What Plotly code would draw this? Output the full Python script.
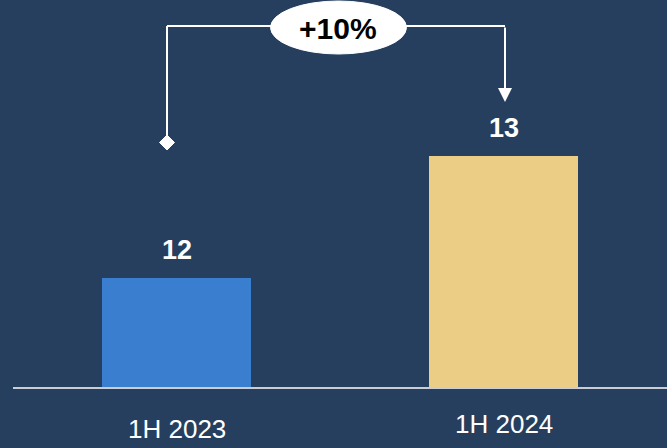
import plotly.graph_objects as go

categories = ["1H 2023", "1H 2024"]
values = [12, 13]
value_labels = ["12", "13"]
bar_colors = ["#3A7ECF", "#ECCD86"]
growth_label = "+10%"

W, H = 667, 448
ML, MB = 13, 61
PW, PH = W - ML, H - MB
BG = "#263F5F"

# y-axis scale (broken axis, not starting at zero)
y_base = 11.107
px_per_unit = 122.0
y_top = y_base + PH / px_per_unit

def px_x(p):
    return (p - ML) / PW

def px_y(p):
    return (PH - p) / PH

fig = go.Figure()
fig.add_trace(go.Bar(
    x=categories, y=values, marker=dict(color=bar_colors, line=dict(width=0)),
    width=0.456, hoverinfo="skip", showlegend=False,
))

shapes = []
# bracket lines
shapes.append(dict(type="line", xref="paper", yref="paper", x0=px_x(167), x1=px_x(167),
                   y0=px_y(26), y1=px_y(138), line=dict(color="white", width=2)))
shapes.append(dict(type="line", xref="paper", yref="paper", x0=px_x(167), x1=px_x(505),
                   y0=px_y(26), y1=px_y(26), line=dict(color="white", width=2)))
# diamond
shapes.append(dict(type="path", xref="paper", yref="paper", xsizemode="pixel", ysizemode="pixel",
                   xanchor=px_x(167), yanchor=px_y(142.5),
                   path="M 0 7.5 L 7.5 0 L 0 -7.5 L -7.5 0 Z",
                   fillcolor="white", line=dict(color="white", width=1)))
# ellipse
shapes.append(dict(type="circle", xref="paper", yref="paper", x0=px_x(270.5), x1=px_x(406.5),
                   y0=px_y(54), y1=px_y(1), fillcolor="white", line=dict(color="white", width=1)))

annotations = []
# arrow on the right
annotations.append(dict(xref="paper", yref="paper", x=px_x(505), y=px_y(102), text="",
                        showarrow=True, ax=0, ay=-76, arrowhead=2, arrowsize=1.4,
                        arrowwidth=2, arrowcolor="white"))
annotations.append(dict(xref="paper", yref="paper", x=px_x(338), y=px_y(29), text="<b>%s</b>" % growth_label,
                        showarrow=False, font=dict(family="Liberation Sans, Arial", size=30, color="black"),
                        xanchor="center", yanchor="middle"))
# value labels
for c, v, t in zip(categories, values, value_labels):
    annotations.append(dict(x=c, y=v, xref="x", yref="y", text="<b>%s</b>" % t, showarrow=False,
                            yshift=28, yanchor="middle",
                            font=dict(family="Liberation Sans, Arial", size=27, color="white")))
# category labels
for c, s in zip(categories, [-42, -37]):
    annotations.append(dict(x=c, y=0, xref="x", yref="paper", text=c, showarrow=False,
                            yshift=s, yanchor="middle",
                            font=dict(family="Liberation Sans, Arial", size=26, color="white")))

fig.update_layout(
    width=W, height=H, margin=dict(l=ML, r=0, t=0, b=MB),
    paper_bgcolor=BG, plot_bgcolor=BG,
    xaxis=dict(range=[-0.5, 1.5], showticklabels=False, showgrid=False, zeroline=False,
               showline=True, linecolor="#C9CED6", linewidth=2, ticks="", fixedrange=True),
    yaxis=dict(range=[y_base, y_top], visible=False, showgrid=False, fixedrange=True),
    shapes=shapes, annotations=annotations, bargap=0, hovermode=False,
)

fig.write_html("out.html", config={"displayModeBar": False, "staticPlot": True},
               post_script="document.body.style.margin='0';document.body.style.background='%s';" % BG)
